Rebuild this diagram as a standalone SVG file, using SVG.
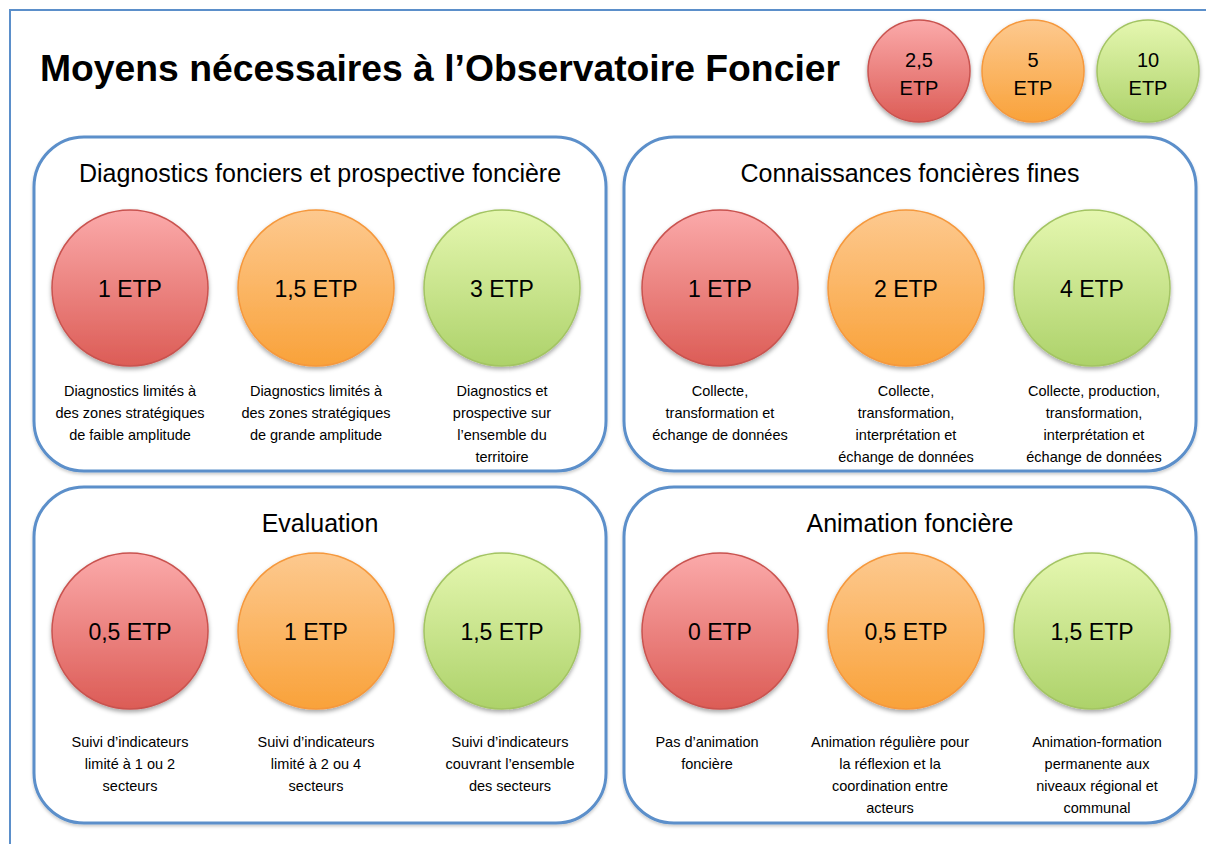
<svg xmlns="http://www.w3.org/2000/svg" width="1206" height="844" viewBox="0 0 1206 844">
<defs>
<linearGradient id="gR" x1="0" y1="0" x2="0" y2="1"><stop offset="0" stop-color="#fbaaaa"/><stop offset="1" stop-color="#dc5c56"/></linearGradient>
<linearGradient id="gO" x1="0" y1="0" x2="0" y2="1"><stop offset="0" stop-color="#fdc98f"/><stop offset="1" stop-color="#f9a23a"/></linearGradient>
<linearGradient id="gG" x1="0" y1="0" x2="0" y2="1"><stop offset="0" stop-color="#e5f7b0"/><stop offset="1" stop-color="#add26a"/></linearGradient>
<filter id="sh" x="-20%" y="-20%" width="140%" height="150%"><feDropShadow dx="0" dy="2.5" stdDeviation="2" flood-color="#000" flood-opacity="0.35"/></filter>
<filter id="shp" x="-5%" y="-5%" width="110%" height="115%"><feDropShadow dx="0" dy="2" stdDeviation="1.5" flood-color="#000" flood-opacity="0.2"/></filter>
</defs>
<style>
.frame{fill:none;stroke:#5b8fca;stroke-width:2}
.panel{fill:#fff;stroke:#5b8fca;stroke-width:3;filter:url(#shp)}
.r{fill:url(#gR);stroke:#c9534f;stroke-width:1.5;filter:url(#sh)}
.o{fill:url(#gO);stroke:#f5983c;stroke-width:1.5;filter:url(#sh)}
.g{fill:url(#gG);stroke:#a3c463;stroke-width:1.5;filter:url(#sh)}
text{font-family:"Liberation Sans",Arial,sans-serif;fill:#000;text-anchor:middle}
.title{font-size:36px;font-weight:bold;text-anchor:start}
.ptitle{font-size:25px}
.etp{font-size:23px}
.leg{font-size:20px}
.desc{font-size:14.5px}
</style>
<rect width="1206" height="844" fill="#fff"/>
<path class="frame" d="M1206 10 H10 V844"/>
<text class="title" x="40" y="81" textLength="800" lengthAdjust="spacingAndGlyphs">Moyens nécessaires à l’Observatoire Foncier</text>

<g id="legend">
<g id="leg-red"><circle class="r" cx="919" cy="71" r="51"/><text class="leg" x="919" y="67">2,5</text><text class="leg" x="919" y="95">ETP</text></g>
<g id="leg-orange"><circle class="o" cx="1033" cy="71" r="51"/><text class="leg" x="1033" y="67">5</text><text class="leg" x="1033" y="95">ETP</text></g>
<g id="leg-green"><circle class="g" cx="1148" cy="71" r="51"/><text class="leg" x="1148" y="67">10</text><text class="leg" x="1148" y="95">ETP</text></g>
</g>

<g id="panel-diagnostics">
<rect class="panel" x="34" y="137" width="572" height="334" rx="50"/>
<text class="ptitle" x="320" y="182">Diagnostics fonciers et prospective foncière</text>
<g id="diag-1"><circle class="r" cx="130" cy="288" r="78"/><text class="etp" x="130" y="297">1 ETP</text>
<text class="desc" x="130" y="396">Diagnostics limités à</text><text class="desc" x="130" y="418">des zones stratégiques</text><text class="desc" x="130" y="440">de faible amplitude</text></g>
<g id="diag-2"><circle class="o" cx="316" cy="288" r="78"/><text class="etp" x="316" y="297">1,5 ETP</text>
<text class="desc" x="316" y="396">Diagnostics limités à</text><text class="desc" x="316" y="418">des zones stratégiques</text><text class="desc" x="316" y="440">de grande amplitude</text></g>
<g id="diag-3"><circle class="g" cx="502" cy="288" r="78"/><text class="etp" x="502" y="297">3 ETP</text>
<text class="desc" x="502" y="396">Diagnostics et</text><text class="desc" x="502" y="418">prospective sur</text><text class="desc" x="502" y="440">l’ensemble du</text><text class="desc" x="502" y="462">territoire</text></g>
</g>

<g id="panel-connaissances">
<rect class="panel" x="624" y="137" width="572" height="334" rx="50"/>
<text class="ptitle" x="910" y="182">Connaissances foncières fines</text>
<g id="conn-1"><circle class="r" cx="720" cy="288" r="78"/><text class="etp" x="720" y="297">1 ETP</text>
<text class="desc" x="720" y="396">Collecte,</text><text class="desc" x="720" y="418">transformation et</text><text class="desc" x="720" y="440">échange de données</text></g>
<g id="conn-2"><circle class="o" cx="906" cy="288" r="78"/><text class="etp" x="906" y="297">2 ETP</text>
<text class="desc" x="906" y="396">Collecte,</text><text class="desc" x="906" y="418">transformation,</text><text class="desc" x="906" y="440">interprétation et</text><text class="desc" x="906" y="462">échange de données</text></g>
<g id="conn-3"><circle class="g" cx="1092" cy="288" r="78"/><text class="etp" x="1092" y="297">4 ETP</text>
<text class="desc" x="1094" y="396">Collecte, production,</text><text class="desc" x="1094" y="418">transformation,</text><text class="desc" x="1094" y="440">interprétation et</text><text class="desc" x="1094" y="462">échange de données</text></g>
</g>

<g id="panel-evaluation">
<rect class="panel" x="34" y="487" width="572" height="336" rx="50"/>
<text class="ptitle" x="320" y="532">Evaluation</text>
<g id="eval-1"><circle class="r" cx="130" cy="631" r="78"/><text class="etp" x="130" y="640">0,5 ETP</text>
<text class="desc" x="130" y="747">Suivi d’indicateurs</text><text class="desc" x="130" y="769">limité à 1 ou 2</text><text class="desc" x="130" y="791">secteurs</text></g>
<g id="eval-2"><circle class="o" cx="316" cy="631" r="78"/><text class="etp" x="316" y="640">1 ETP</text>
<text class="desc" x="316" y="747">Suivi d’indicateurs</text><text class="desc" x="316" y="769">limité à 2 ou 4</text><text class="desc" x="316" y="791">secteurs</text></g>
<g id="eval-3"><circle class="g" cx="502" cy="631" r="78"/><text class="etp" x="502" y="640">1,5 ETP</text>
<text class="desc" x="510" y="747">Suivi d’indicateurs</text><text class="desc" x="510" y="769">couvrant l’ensemble</text><text class="desc" x="510" y="791">des secteurs</text></g>
</g>

<g id="panel-animation">
<rect class="panel" x="624" y="487" width="572" height="336" rx="50"/>
<text class="ptitle" x="910" y="532">Animation foncière</text>
<g id="anim-1"><circle class="r" cx="720" cy="631" r="78"/><text class="etp" x="720" y="640">0 ETP</text>
<text class="desc" x="707" y="747">Pas d’animation</text><text class="desc" x="707" y="769">foncière</text></g>
<g id="anim-2"><circle class="o" cx="906" cy="631" r="78"/><text class="etp" x="906" y="640">0,5 ETP</text>
<text class="desc" x="890" y="747">Animation régulière pour</text><text class="desc" x="890" y="769">la réflexion et la</text><text class="desc" x="890" y="791">coordination entre</text><text class="desc" x="890" y="813">acteurs</text></g>
<g id="anim-3"><circle class="g" cx="1092" cy="631" r="78"/><text class="etp" x="1092" y="640">1,5 ETP</text>
<text class="desc" x="1097" y="747">Animation-formation</text><text class="desc" x="1097" y="769">permanente aux</text><text class="desc" x="1097" y="791">niveaux régional et</text><text class="desc" x="1097" y="813">communal</text></g>
</g>
<g id="connectors"/>
</svg>
